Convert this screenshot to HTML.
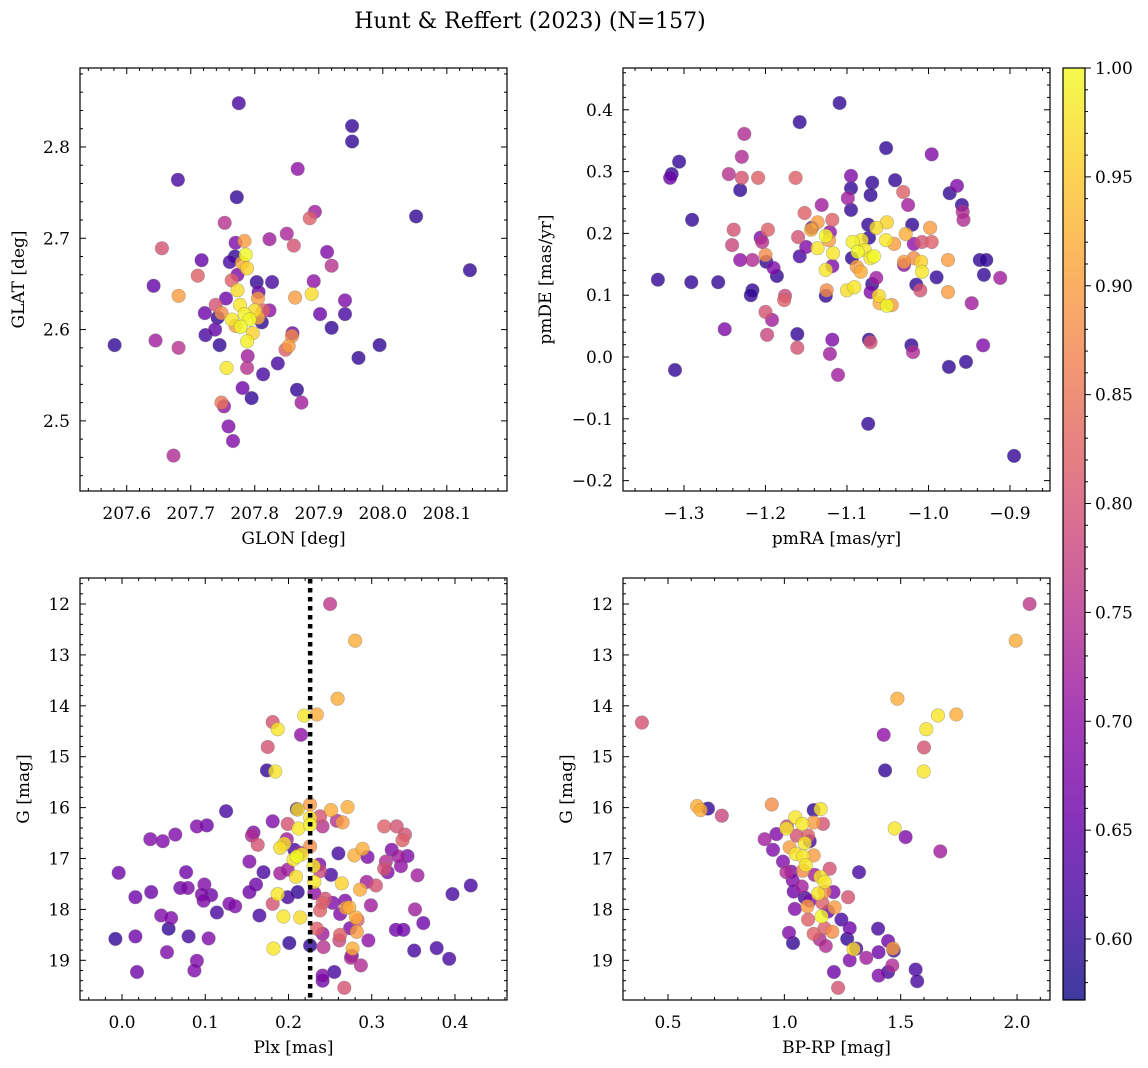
<!DOCTYPE html>
<html><head><meta charset="utf-8">
<style>
html,body{margin:0;padding:0;background:#fff;}
svg{display:block;font-family:"DejaVu Serif","Liberation Serif",serif;}
</style></head>
<body>
<svg id="fig" width="1148" height="1068" viewBox="0 0 1148 1068" xmlns="http://www.w3.org/2000/svg">
<text x="530" y="28" font-size="22" text-anchor="middle">Hunt &amp; Reffert (2023) (N=157)</text>
</svg>
<script>
// ---------- Panel 1: GLON vs GLAT ----------
const glon = [207.581,207.680,207.655,207.642,207.645,207.681,207.681,207.711,207.717,207.775,207.772,207.753,207.770,207.784,207.823,207.850,207.861,207.894,207.886,207.867,207.952,207.952,208.052,208.136,207.913,207.920,207.892,207.941,207.889,207.863,207.902,207.941,207.920,207.962,207.995,207.859,207.858,207.853,207.848,207.836,207.813,207.781,207.795,207.748,207.752,207.759,207.766,207.673,207.866,207.873,207.723,207.722,207.739,207.742,207.756,207.788,207.789,207.803,207.806,207.827,207.823,207.811,207.773,207.780,207.786,207.788,207.777,207.784,207.792,207.800,207.764,207.778,207.797,207.788,207.805,207.770,207.755,207.738,207.745,207.764,207.773,207.761,207.769,207.805,207.813,207.748];
const glat = [2.583,2.764,2.689,2.648,2.588,2.580,2.637,2.659,2.676,2.848,2.745,2.717,2.695,2.697,2.699,2.705,2.692,2.729,2.722,2.776,2.823,2.806,2.724,2.665,2.685,2.670,2.653,2.632,2.639,2.635,2.617,2.617,2.602,2.569,2.583,2.596,2.593,2.582,2.578,2.563,2.551,2.536,2.525,2.520,2.516,2.494,2.478,2.462,2.534,2.520,2.594,2.618,2.627,2.613,2.558,2.558,2.571,2.652,2.641,2.652,2.621,2.608,2.643,2.673,2.682,2.667,2.627,2.617,2.611,2.621,2.611,2.603,2.596,2.587,2.613,2.604,2.634,2.600,2.583,2.654,2.660,2.674,2.680,2.634,2.621,2.618];
const probA = [.6,.62,.8,.65,.72,.75,.9,.82,.65,.62,.6,.75,.68,.9,.72,.73,.8,.72,.82,.7,.6,.6,.6,.6,.68,.75,.7,.68,.97,.9,.66,.62,.6,.6,.6,.66,.88,.9,.82,.62,.62,.66,.6,.85,.7,.68,.68,.74,.6,.72,.62,.66,.8,.6,.98,.75,.72,.6,.66,.62,.7,.6,.97,.92,1.0,.96,.98,.99,1.0,.97,.98,1.0,.96,.99,.92,.9,.66,.65,.6,.82,.68,.62,.6,.9,.82,.88];

// ---------- Panel 2: pmRA vs pmDE ----------
const pmra = [-1.332,-1.315,-1.317,-1.306,-1.290,-1.291,-1.311,-1.258,-1.250,-1.226,-1.229,-1.245,-1.229,-1.209,-1.231,-1.239,-1.241,-1.231,-1.216,-1.216,-1.218,-1.204,-1.197,-1.206,-1.200,-1.199,-1.190,-1.186,-1.200,-1.192,-1.198,-1.177,-1.176,-1.163,-1.158,-1.161,-1.161,-1.160,-1.150,-1.158,-1.152,-1.143,-1.144,-1.131,-1.136,-1.136,-1.126,-1.122,-1.126,-1.126,-1.125,-1.121,-1.118,-1.117,-1.118,-1.118,-1.121,-1.111,-1.109,-1.100,-1.091,-1.095,-1.095,-1.099,-1.095,-1.093,-1.082,-1.087,-1.088,-1.083,-1.094,-1.073,-1.074,-1.064,-1.069,-1.071,-1.078,-1.071,-1.067,-1.069,-1.061,-1.064,-1.060,-1.071,-1.073,-1.071,-1.074,-1.051,-1.052,-1.051,-1.045,-1.042,-1.052,-1.041,-1.031,-1.030,-1.025,-1.020,-1.028,-1.030,-1.018,-1.018,-1.008,-1.009,-1.015,-1.010,-0.998,-0.996,-0.996,-1.008,-1.021,-1.019,-0.990,-0.976,-0.976,-0.975,-0.974,-0.965,-0.959,-0.958,-0.957,-0.954,-0.947,-0.937,-0.932,-0.929,-0.933,-0.912,-0.895];
const pmde = [0.125,0.296,0.290,0.316,0.222,0.121,-0.021,0.121,0.045,0.361,0.324,0.296,0.290,0.290,0.270,0.206,0.181,0.157,0.157,0.108,0.100,0.186,0.206,0.193,0.165,0.154,0.144,0.131,0.073,0.060,0.036,0.092,0.099,0.290,0.380,0.037,0.015,0.194,0.178,0.163,0.233,0.209,0.206,0.246,0.176,0.218,0.196,0.189,0.141,0.099,0.108,0.202,0.222,0.168,0.147,0.028,0.005,-0.029,0.411,0.108,0.113,0.273,0.293,0.257,0.238,0.186,0.189,0.170,0.146,0.138,0.160,0.193,0.214,0.209,0.282,0.262,0.173,0.160,0.163,0.118,0.099,0.128,0.087,0.105,0.028,0.024,-0.108,0.218,0.189,0.083,0.084,0.183,0.338,0.286,0.267,0.149,0.246,0.214,0.199,0.154,0.160,0.183,0.186,0.154,0.117,0.108,0.209,0.186,0.328,0.138,0.019,0.008,0.129,0.157,0.105,-0.016,0.265,0.277,0.246,0.235,0.222,-0.008,0.087,0.157,0.133,0.157,0.019,0.128,-0.160];
const probB = [.6,.6,.66,.6,.6,.6,.6,.6,.68,.74,.74,.75,.8,.82,.6,.8,.78,.7,.74,.6,.6,.75,.82,.68,.88,.6,.68,.6,.8,.72,.78,.82,.78,.82,.6,.6,.8,.8,.68,.62,.82,.62,.92,.72,.98,.9,1.0,.9,.98,.6,.88,.7,.82,.98,.68,.68,.72,.72,.6,.97,.98,.6,.68,.72,.6,.99,.98,1.0,.9,.92,.6,.6,.6,.97,.6,.6,.98,.98,1.0,.6,.97,.72,.92,.68,.6,.8,.6,.96,.98,1.0,.9,.9,.6,.6,.82,.7,.72,.6,.92,.9,.88,.7,.8,.96,.6,.8,.9,.82,.68,.98,.6,.74,.6,.9,.9,.6,.6,.68,.6,.74,.74,.6,.72,.6,.6,.6,.68,.72,.6];

// ---------- Panel 3: Plx vs G ----------
const plx = [0.250,0.280,0.259,0.219,0.234,0.181,0.187,0.215,0.175,0.174,0.184,0.125,0.210,0.211,0.226,0.251,0.271,0.181,0.199,0.226,0.238,0.241,0.258,0.265,0.212,0.226,0.090,0.102,0.064,0.034,0.049,0.158,0.156,0.163,0.198,0.195,0.190,0.207,0.214,0.210,0.216,0.206,0.226,0.260,0.279,0.289,0.295,0.315,0.330,0.340,0.337,0.324,0.332,0.343,0.317,0.315,0.319,0.335,0.355,0.153,0.170,0.190,0.199,0.209,0.237,0.238,0.230,0.251,-0.004,0.077,0.070,0.079,0.099,0.096,0.107,0.098,0.035,0.016,0.161,0.153,0.231,0.264,0.286,0.294,0.305,0.187,0.199,0.211,0.181,0.231,0.244,0.241,0.253,0.238,0.268,0.269,0.273,0.262,0.281,0.283,0.299,0.397,0.419,0.352,0.362,0.329,0.338,0.136,0.129,0.114,0.047,0.059,0.165,0.194,0.214,0.016,-0.008,0.056,0.080,0.104,0.234,0.241,0.262,0.282,0.274,0.261,0.296,0.201,0.226,0.242,0.277,0.182,0.351,0.378,0.393,0.054,0.090,0.276,0.275,0.287,0.018,0.087,0.255,0.241,0.241,0.267];
const gmagA = [12.00,12.72,13.86,14.19,14.17,14.32,14.46,14.57,14.81,15.27,15.29,16.07,16.03,16.04,15.94,16.05,15.99,16.27,16.32,16.20,16.17,16.37,16.26,16.29,16.41,16.34,16.37,16.35,16.53,16.62,16.66,16.49,16.55,16.73,16.62,16.71,16.79,16.83,16.89,16.96,16.92,17.02,16.76,16.90,16.94,16.81,16.97,16.37,16.37,16.53,16.64,16.83,16.96,16.95,17.06,17.20,17.27,17.15,17.33,17.06,17.27,17.29,17.22,17.36,17.12,17.25,17.15,17.32,17.28,17.27,17.58,17.58,17.51,17.71,17.72,17.83,17.66,17.76,17.51,17.66,17.46,17.49,17.61,17.46,17.53,17.70,17.76,17.66,17.89,17.68,17.79,17.87,17.87,18.02,17.83,17.97,17.96,18.09,18.16,18.21,17.92,17.70,17.53,18.00,18.27,18.40,18.40,17.94,17.89,18.06,18.12,18.17,18.12,18.14,18.16,18.53,18.58,18.38,18.53,18.57,18.38,18.48,18.50,18.44,18.37,18.61,18.61,18.66,18.71,18.74,18.77,18.77,18.81,18.76,18.97,18.84,19.01,18.91,18.95,19.10,19.23,19.20,19.23,19.30,19.40,19.54];
const probC = [.76,.92,.92,.98,.92,.8,.98,.7,.8,.6,.98,.62,.6,.97,.9,.92,.92,.68,.8,.98,.8,.75,.75,.9,.98,.99,.68,.66,.68,.68,.68,.68,.74,.8,.72,.97,.97,.62,.74,1.0,.98,.98,.88,.62,.92,.92,.68,.82,.8,.8,.82,.68,.72,.68,.74,.8,.68,.7,.72,.68,.62,.72,.72,.97,.68,.78,.98,.62,.66,.66,.66,.68,.68,.68,.66,.68,.66,.66,.66,.66,.98,.96,.92,.72,.8,.98,.62,.6,.8,.7,.8,.82,.68,.82,.68,.9,.92,.68,.92,.82,.72,.62,.62,.72,.66,.66,.66,.68,.68,.62,.68,.68,.62,.98,.97,.66,.6,.6,.62,.68,.82,.72,.82,.9,.68,.78,.7,.6,.6,.75,.92,.98,.62,.62,.62,.68,.68,.66,.74,.74,.66,.68,.62,.68,.66,.8];
const plxLine = 0.226;

// ---------- Panel 4: BP-RP vs G ----------
const bprp = [2.054,1.994,1.486,1.660,1.739,0.388,1.610,1.427,1.600,1.433,1.599,0.625,0.640,0.672,0.731,0.946,1.474,1.521,1.670,1.321,1.126,1.156,1.047,1.077,1.126,1.166,1.009,1.011,0.966,0.915,1.053,1.102,1.088,1.023,0.951,1.109,1.049,1.080,1.126,1.092,0.994,1.195,1.009,1.030,1.080,1.130,1.155,1.173,1.036,1.075,1.040,1.145,1.211,1.173,1.274,1.088,1.109,1.163,1.099,1.045,1.216,1.188,1.160,1.102,1.245,1.281,1.173,1.206,1.126,1.152,1.178,1.270,1.309,1.297,1.281,1.352,1.405,1.403,1.446,1.467,1.470,1.464,1.446,1.405,1.564,1.571,1.213,1.231,1.020,1.037];
const gmagB = [12.00,12.72,13.86,14.19,14.17,14.33,14.46,14.57,14.82,15.27,15.29,15.97,16.05,16.02,16.16,15.94,16.41,16.58,16.86,17.27,16.05,16.03,16.19,16.32,16.29,16.32,16.41,16.37,16.52,16.62,16.55,16.55,16.70,16.78,16.83,16.66,16.91,16.96,16.94,17.13,17.06,17.20,17.27,17.26,17.24,17.32,17.36,17.46,17.43,17.55,17.65,17.69,17.66,17.65,17.76,17.77,17.83,17.87,17.94,17.99,17.96,18.04,18.14,18.20,18.20,18.37,18.37,18.44,18.48,18.59,18.72,18.58,18.77,18.78,19.00,18.95,18.84,18.38,18.62,18.77,18.81,19.10,19.23,19.30,19.18,19.41,19.23,19.54,18.46,18.66];
const probD = [.76,.92,.92,.98,.92,.8,.98,.7,.8,.6,.98,.92,.92,.6,.78,.88,.98,.68,.72,.62,.6,.98,.98,.98,.9,.8,.98,.78,.68,.72,.8,.82,.98,.9,.68,.62,.98,.98,.9,.98,.68,.8,.74,.68,.88,.72,.98,.98,.68,.72,.66,.98,.68,.88,.8,.62,.68,.82,.9,.68,.9,.66,1.0,.82,.62,.66,.82,.88,.82,.74,.74,.6,.62,.97,.68,.72,.66,.62,.66,.9,.6,.74,.62,.68,.62,.62,.66,.8,.68,.6];

// ---------- Colorbar ----------
const cbTicks = [0.60,0.65,0.70,0.75,0.80,0.85,0.90,0.95,1.00];
const cbMin = 0.572, cbMax = 1.0;

const NS = 'http://www.w3.org/2000/svg';
const svg = document.getElementById('fig');
const FS = 17;
function mk(tag, attrs, parent){ const e=document.createElementNS(NS,tag); for(const k in attrs) e.setAttribute(k,attrs[k]); (parent||svg).appendChild(e); return e; }

const plasmaStops = ['#0d0887','#41049d','#6a00a8','#8f0da4','#b12a90','#cc4778','#e16462','#f2844b','#fca636','#fcce25','#f0f921'];
function hex(h){return [parseInt(h.substr(1,2),16),parseInt(h.substr(3,2),16),parseInt(h.substr(5,2),16)];}
function plasma(t){ t=Math.max(0,Math.min(1,t)); const s=t*10, i=Math.min(9,Math.floor(s)), f=s-i; const a=hex(plasmaStops[i]), b=hex(plasmaStops[i+1]); return 'rgb('+a.map((v,k)=>Math.round(v+(b[k]-v)*f)).join(',')+')'; }
function pcol(p){ return plasma((p-cbMin)/(cbMax-cbMin)); }

function fmt(v,d){ const s=Math.abs(v).toFixed(d); return (v<-1e-9?'\u2212':'')+s; }

function panel(cfg){
  const g = mk('g',{});
  
  
  const {x0,x1,y0,y1,xmin,xmax,ymin,ymax} = cfg;
  const sx = v => x0 + (v-xmin)/(xmax-xmin)*(x1-x0);
  const sy = v => cfg.invert ? y0 + (v-ymin)/(ymax-ymin)*(y1-y0) : y1 - (v-ymin)/(ymax-ymin)*(y1-y0);
  const pts = g.appendChild(document.createElementNS(NS,'g'));
  
  
  const idx = cfg.xs.map((_,i)=>i).sort((a,b)=>cfg.ps[a]-cfg.ps[b]);
  idx.forEach(i=>{
    const c = mk('circle',{cx:sx(cfg.xs[i]).toFixed(1),cy:sy(cfg.ys[i]).toFixed(1),r:6.8,fill:pcol(cfg.ps[i]),'fill-opacity':0.8,stroke:'#777','stroke-opacity':0.5,'stroke-width':0.6},pts);
    
    
  });
  if(cfg.vline!==undefined){
    const l = mk('line',{x1:sx(cfg.vline),x2:sx(cfg.vline),y1:y0+1,y2:y1,stroke:'#000','stroke-width':4.5,'stroke-dasharray':'4.5 4.5'},g);
    
    
  }
  const tg = mk('g',{stroke:'#000','stroke-width':1},g);
  
  
  const eps=1e-9;
  for(let v=Math.ceil(xmin/cfg.xminor-eps)*cfg.xminor; v<=xmax+eps; v+=cfg.xminor){
    const X=sx(v); const major=cfg.xticks.some(t=>Math.abs(t-v)<cfg.xminor/3); const L=major?6:3;
    mk('line',{x1:X,x2:X,y1:y1,y2:y1-L},tg); mk('line',{x1:X,x2:X,y1:y0,y2:y0+L},tg);
  }
  for(let v=Math.ceil(ymin/cfg.yminor-eps)*cfg.yminor; v<=ymax+eps; v+=cfg.yminor){
    const Y=sy(v); const major=cfg.yticks.some(t=>Math.abs(t-v)<cfg.yminor/3); const L=major?6:3;
    mk('line',{x1:x0,x2:x0+L,y1:Y,y2:Y},tg); mk('line',{x1:x1,x2:x1-L,y1:Y,y2:Y},tg);
  }
  const fr = mk('rect',{x:x0,y:y0,width:x1-x0,height:y1-y0,fill:'none',stroke:'#000','stroke-width':1.2},g);
  
  
  cfg.xticks.forEach(t=>{
    const tx = mk('text',{x:sx(t),y:y1+28,'font-size':FS,'text-anchor':'middle'},g);
    tx.textContent = fmt(t,cfg.xdec);
    
    
  });
  cfg.yticks.forEach(t=>{
    const tx = mk('text',{x:x0-10,y:sy(t)+6,'font-size':FS,'text-anchor':'end'},g);
    tx.textContent = fmt(t,cfg.ydec);
    
    
  });
  const xl = mk('text',{x:(x0+x1)/2,y:y1+53,'font-size':FS,'text-anchor':'middle'},g);
  xl.textContent = cfg.xlabel;
  
  
  const yx = cfg.ylabX, yy=(y0+y1)/2;
  const yl = mk('text',{x:yx,y:yy,'font-size':FS,'text-anchor':'middle',transform:'rotate(-90 '+yx+' '+yy+')'},g);
  yl.textContent = cfg.ylabel;
  
  
}

panel({name:'glon-glat-panel',x0:80,x1:507,y0:68,y1:491,xmin:207.527,xmax:208.194,ymin:2.4232,ymax:2.8865,
  xs:glon,ys:glat,ps:probA,xticks:[207.6,207.7,207.8,207.9,208.0,208.1],yticks:[2.5,2.6,2.7,2.8],xminor:0.02,yminor:0.02,xdec:1,ydec:1,
  xlabel:'GLON [deg]',ylabel:'GLAT [deg]',ylabX:24});
panel({name:'pm-panel',x0:623,x1:1050,y0:68,y1:491,xmin:-1.3748,xmax:-0.8509,ymin:-0.2168,ymax:0.4676,
  xs:pmra,ys:pmde,ps:probB,xticks:[-1.3,-1.2,-1.1,-1.0,-0.9],yticks:[-0.2,-0.1,0.0,0.1,0.2,0.3,0.4],xminor:0.02,yminor:0.02,xdec:1,ydec:1,
  xlabel:'pmRA [mas/yr]',ylabel:'pmDE [mas/yr]',ylabX:551});
panel({name:'plx-g-panel',x0:80,x1:507,y0:578,y1:1000,xmin:-0.0505,xmax:0.4625,ymin:11.489,ymax:19.78,invert:true,vline:plxLine,
  xs:plx,ys:gmagA,ps:probC,xticks:[0.0,0.1,0.2,0.3,0.4],yticks:[12,13,14,15,16,17,18,19],xminor:0.02,yminor:0.2,xdec:1,ydec:0,
  xlabel:'Plx [mas]',ylabel:'G [mag]',ylabX:29});
panel({name:'cmd-panel',x0:623,x1:1050,y0:578,y1:1000,xmin:0.3066,xmax:2.1416,ymin:11.489,ymax:19.78,invert:true,
  xs:bprp,ys:gmagB,ps:probD,xticks:[0.5,1.0,1.5,2.0],yticks:[12,13,14,15,16,17,18,19],xminor:0.1,yminor:0.2,xdec:1,ydec:0,
  xlabel:'BP-RP [mag]',ylabel:'G [mag]',ylabX:572});

(function(){
  const cx0=1063,cx1=1085,cy0=68,cy1=1000;
  const g = mk('g',{});
  
  
  const defs = mk('defs',{},g);
  const lg = mk('linearGradient',{id:'cbg',x1:0,y1:1,x2:0,y2:0},defs);
  plasmaStops.forEach((c,i)=>mk('stop',{offset:(i*10)+'%','stop-color':c,'stop-opacity':0.8},lg));
  mk('rect',{x:cx0,y:cy0,width:cx1-cx0,height:cy1-cy0,fill:'url(#cbg)',stroke:'#000','stroke-width':1.2},g);
  const sy = v => cy1 - (v-cbMin)/(cbMax-cbMin)*(cy1-cy0);
  for(let v=0.58; v<=1.0001; v+=0.01){
    const Y=sy(v); const major=cbTicks.some(t=>Math.abs(t-v)<0.003);
    mk('line',{x1:cx1,x2:cx1+(major?6:3),y1:Y,y2:Y,stroke:'#000','stroke-width':1},g);
  }
  cbTicks.forEach(t=>{
    const tx = mk('text',{x:cx1+10,y:sy(t)+6,'font-size':FS},g);
    tx.textContent = t.toFixed(2);
    
    
  });
})();
</script>
</body></html>
